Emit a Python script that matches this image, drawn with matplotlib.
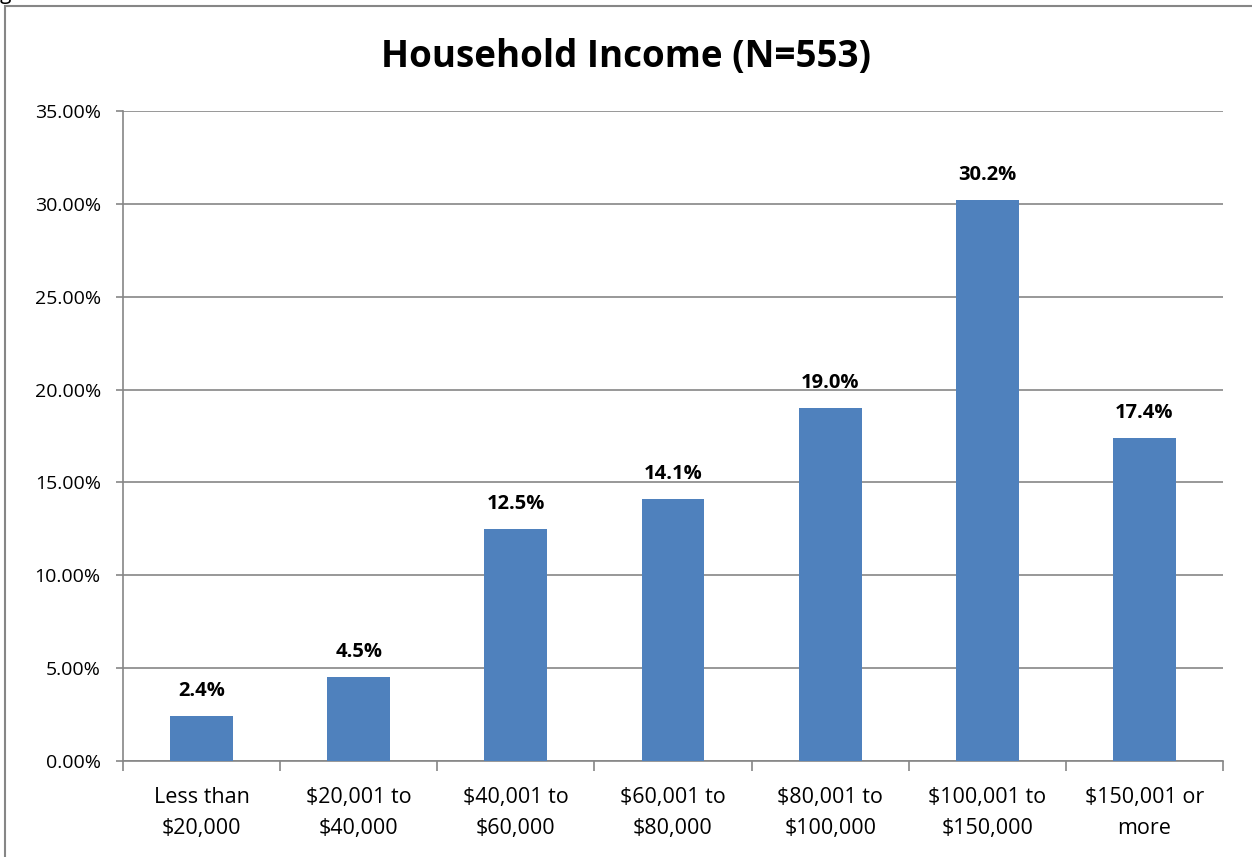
import matplotlib.pyplot as plt
import numpy as np
from matplotlib.patches import Rectangle

# Household income distribution (share of respondents, %)
categories = ["Less than\n$20,000", "$20,001 to\n$40,000", "$40,001 to\n$60,000",
              "$60,001 to\n$80,000", "$80,001 to\n$100,000", "$100,001 to\n$150,000",
              "$150,001 or\nmore"]
shares = [2.4, 4.5, 12.5, 14.1, 19.0, 30.2, 17.4]
y_ticks = [0, 5, 10, 15, 20, 25, 30, 35]

BAR_COLOR = "#4F81BD"
AXIS_GRAY = "#868686"

plt.rcParams["font.family"] = ["Open Sans", "DejaVu Sans"]

fig = plt.figure(figsize=(12.52, 8.57), dpi=100)
ax = fig.add_axes([123 / 1252, 1 - 761 / 857, 1100 / 1252, 650 / 857])

x = np.arange(len(categories))
ax.bar(x, shares, width=0.4, color=BAR_COLOR, zorder=3)

for xi, v in zip(x, shares):
    ax.annotate(f"{v:.1f}%", (xi, v), xytext=(0, 11), textcoords="offset points",
                ha="center", va="bottom", fontsize=14.5, fontweight="bold", color="black")

ax.set_xlim(-0.5, len(categories) - 0.5)
ax.set_ylim(0, 35)
ax.set_yticks(y_ticks)
ax.set_yticklabels([f"{t:.2f}%" for t in y_ticks], fontsize=14)
ax.yaxis.grid(True, color=AXIS_GRAY, linewidth=1.2, zorder=0)

# category labels centred, ticks on the category boundaries
ax.set_xticks(x)
ax.set_xticklabels(categories, fontsize=15.5, linespacing=1.6)
ax.tick_params(axis="x", length=0, pad=19)
ax.set_xticks(np.arange(len(categories) + 1) - 0.5, minor=True)
ax.tick_params(axis="x", which="minor", length=7, width=1.2, color=AXIS_GRAY, direction="out")
ax.tick_params(axis="y", length=5, width=1.2, color=AXIS_GRAY, direction="out", pad=11)

for side in ["top", "right"]:
    ax.spines[side].set_visible(False)
for side in ["left", "bottom"]:
    ax.spines[side].set_color(AXIS_GRAY)
    ax.spines[side].set_linewidth(1.2)

fig.text(0.5, 1 - 57 / 857, "Household Income (N=553)", ha="center", va="center",
         fontsize=26.5, fontweight="bold")

# chart frame, with the tail of the caption above it
fig.patches.append(Rectangle((5 / 1252, -0.1), 1.2, 1 - 6 / 857 + 0.1, transform=fig.transFigure,
                             fill=False, edgecolor=AXIS_GRAY, linewidth=1.5))
fig.text(0.0, 1 + 1 / 857, "g", ha="left", va="baseline", fontsize=15)

fig.savefig("out.png", dpi=100)
